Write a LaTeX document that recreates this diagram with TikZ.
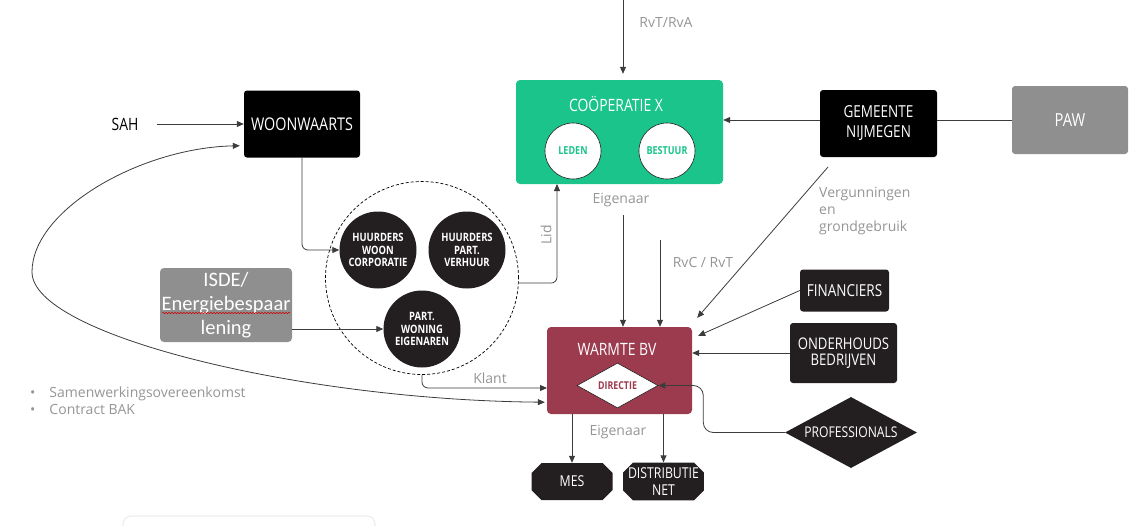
\documentclass[tikz,border=0pt]{standalone}
\usepackage{fontspec}
\setmainfont{Open Sans}
\newfontfamily\calibrifont{Carlito}
\newfontfamily\condfont[FakeStretch=0.82]{Open Sans}
\usepackage{xcolor}
\usepackage{tikz}
\usetikzlibrary{positioning, shapes.geometric, shapes.misc, arrows.meta, decorations.pathmorphing}

\definecolor{coopgreen}{HTML}{1AC48B}
\definecolor{warmred}{HTML}{9C3A4E}
\definecolor{inkdark}{HTML}{231F20}
\definecolor{lblgray}{HTML}{959595}
\definecolor{boxgray}{HTML}{8F8F8F}
\definecolor{wirecol}{HTML}{3C3C3C}

\tikzset{
  blackbox/.style={fill=black, rounded corners=3pt, text=white, inner sep=0pt, align=center, font=\condfont\fontsize{16.5}{20}\selectfont},
  darkbox/.style={blackbox, fill=inkdark},
  graybox/.style={blackbox, fill=boxgray},
  member/.style={circle, fill=inkdark, text=white, inner sep=0pt, minimum size=77pt, align=center, font=\condfont\bfseries\fontsize{11.5}{12.5}\selectfont},
  innercirc/.style={circle, fill=white, draw=inkdark, line width=0.6pt, minimum size=56pt, inner sep=0pt, font=\condfont\bfseries\fontsize{11}{12}\selectfont},
  chamf/.style={chamfered rectangle, chamfered rectangle xsep=5pt, chamfered rectangle ysep=5pt, fill=inkdark, text=white, inner sep=0pt, align=center, font=\condfont\fontsize{15}{17}\selectfont},
  lbl/.style={text=lblgray, inner sep=0pt, align=left, font=\fontsize{14}{17}\selectfont},
  wire/.style={draw=wirecol, line width=0.8pt},
}

\begin{document}
\begin{tikzpicture}[x=1pt, y=-1pt, >={Triangle[length=7pt,width=6pt]}]
  \useasboundingbox (0,0) rectangle (1138,525);

  % top row
  \node[font=\condfont\fontsize{17}{20}\selectfont, inner sep=0pt] (sah) at (125,124) {SAH};
  \node[blackbox, font=\condfont\fontsize{17.5}{20}\selectfont, minimum width=116pt, minimum height=67pt] (woon) at (302,124) {WOONWAARTS};
  \node[fill=coopgreen, rounded corners=4pt, minimum width=207pt, minimum height=104pt] (coop) at (619.5,132) {};
  \node[text=white, inner sep=0pt, font=\condfont\fontsize{17}{20}\selectfont] (cooptitle) at (616,104) {COÖPERATIE X};
  \node[innercirc, text=coopgreen] (leden) at (573,151) {LEDEN};
  \node[innercirc, text=coopgreen] (bestuur) at (667,151) {BESTUUR};
  \node[blackbox, minimum width=117pt, minimum height=67pt] (gem) at (878.5,123.5) {GEMEENTE\\NIJMEGEN};
  \node[graybox, font=\condfont\fontsize{18}{20}\selectfont, minimum width=116pt, minimum height=68pt] (paw) at (1070,120) {PAW};

  % klanten
  \node[circle, draw=black, line width=0.7pt, dash pattern=on 3pt off 2pt, minimum size=193pt] (klanten) at (422,278) {};
  \node[member] (hwc) at (378,250) {HUURDERS\\WOON\\CORPORATIE};
  \node[member] (hpv) at (467,250) {HUURDERS\\PART.\\VERHUUR};
  \node[member] (pwe) at (422,329) {PART.\\WONING\\EIGENAREN};

  \node[graybox, rounded corners=4pt, minimum width=132pt, minimum height=74pt, font=\calibrifont\fontsize{20.5}{24}\selectfont] (isde) at (226,305) {ISDE/\\Energiebespaar\\lening};
  \draw[red!80!black, line width=0.5pt, decorate, decoration={snake, amplitude=0.7pt, segment length=3pt}] ([shift={(-64,8)}]isde.center) -- ([shift={(64,8)}]isde.center);

  % warmte bv
  \node[fill=warmred, rounded corners=4pt, minimum width=145pt, minimum height=87pt] (warmte) at (619.5,370.5) {};
  \node[text=white, inner sep=0pt, font=\condfont\fontsize{17}{20}\selectfont] (warmtitle) at (617,349) {WARMTE BV};
  \node[diamond, fill=white, draw=inkdark, line width=0.6pt, minimum width=81pt, minimum height=45pt, inner sep=0pt, aspect=1.8, text=warmred, font=\condfont\bfseries\fontsize{10.8}{12}\selectfont] (dir) at (617.5,385.5) {DIRECTIE};

  \node[darkbox, minimum width=89pt, minimum height=42pt] (fin) at (844.5,290.5) {FINANCIERS};
  \node[darkbox, minimum width=107pt, minimum height=60pt, font=\condfont\fontsize{16}{16}\selectfont] (ond) at (843.5,353) {ONDERHOUDS\\BEDRIJVEN};
  \node[diamond, fill=inkdark, text=white, minimum width=132pt, minimum height=71pt, inner sep=0pt, aspect=1.86, font=\condfont\fontsize{14.8}{16}\selectfont] (prof) at (851,432.5) {PROFESSIONALS};

  \node[chamf, minimum width=81pt, minimum height=37pt] (mes) at (572,481.5) {MES};
  \node[chamf, minimum width=80pt, minimum height=37pt] (dist) at (663.5,481.5) {DISTRIBUTIE\\NET};

  % labels
  \node[lbl] (rvtlbl) at (666,22) {RvT/RvA};
  \node[lbl] (eig1) at (621,200) {Eigenaar};
  \node[lbl] (rvclbl) at (703,262) {RvC / RvT};
  \node[lbl, anchor=north west] (verg) at (819,187) {Vergunningen\\en\\grondgebruik};
  \node[lbl, rotate=90] (lidlbl) at (546,235) {Lid};
  \node[lbl] (klantlbl) at (490,378) {Klant};
  \node[lbl] (eig2) at (618,432) {Eigenaar};
  \node[lbl, anchor=west] (afspraken) at (30,400.5) {•\quad Samenwerkingsovereenkomst\\•\quad Contract BAK};

  % free ends
  \coordinate (rvtin) at (623,0);
  \coordinate (eigtop) at (623,215);
  \coordinate (rvctop) at (660,240);
  \coordinate (lidin) at (557,184);
  \coordinate (klantin) at (547,388);
  \coordinate (vergtop) at (828,167);

  % connectors
  \draw[wire, ->, shorten >=6pt] (rvtin) -- (rvtin |- coop.north);
  \draw[wire, ->] ([xshift=18pt]sah.east) -- (woon.west);
  \draw[wire, ->, rounded corners=6pt] (woon.south) |- (hwc.west);
  \draw[wire] (paw.west) -- (paw.west -| gem.east);
  \draw[wire, ->] (gem.west |- paw.west) -- (coop.east |- paw.west);
  \draw[wire, ->, rounded corners=6pt] (klanten.-3) -| (lidin);
  \draw[wire, ->, rounded corners=6pt] (klanten.south) |- (klantin);
  \draw[wire, ->] (isde.east |- pwe.west) -- (pwe.west);
  \draw[wire, ->] (eigtop) -- (eigtop |- warmte.north);
  \draw[wire, ->] (rvctop) -- (rvctop |- warmte.north);
  \draw[wire, ->] (vergtop) -- ([shift={(5,-9)}]warmte.north east);
  \draw[wire, ->] (fin.west) -- ([shift={(6,9)}]warmte.north east);
  \draw[wire, ->] (ond.west) -- (ond.west -| warmte.east);
  \draw[wire, ->, rounded corners=10pt] (prof.west) -| ([xshift=45pt]dir.east) -- (dir.east);
  \draw[wire, ->] (mes.north |- warmte.south) -- (mes.north);
  \draw[wire, ->] (dist.north |- warmte.south) -- (dist.north);
  \draw[wire, <->] ([shift={(-4,-12)}]woon.south west) .. controls (140,148) and (32,210) .. (32,272)
    .. controls (32,335) and (300,400) .. ([shift={(-2,-12)}]warmte.south west);

  % faint box at the bottom
  \draw[black!7, line width=1.2pt, rounded corners=8pt] (123,516) rectangle (375,545);
\end{tikzpicture}
\end{document}
